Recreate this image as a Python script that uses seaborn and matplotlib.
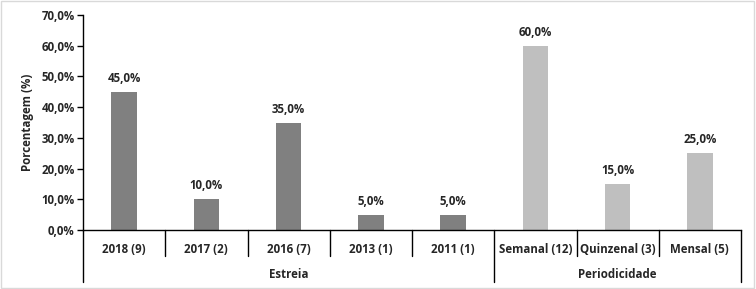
import numpy as np
import pandas as pd
import matplotlib
matplotlib.use('Agg')
import matplotlib.pyplot as plt
import matplotlib.transforms as mtransforms
from matplotlib.ticker import FuncFormatter
import seaborn as sns

# chart data
categories = ['2018 (9)', '2017 (2)', '2016 (7)', '2013 (1)', '2011 (1)',
              'Semanal (12)', 'Quinzenal (3)', 'Mensal (5)']
values = [0.45, 0.10, 0.35, 0.05, 0.05, 0.60, 0.15, 0.25]
groups = ['Estreia'] * 5 + ['Periodicidade'] * 3
group_names = ['Estreia', 'Periodicidade']
colors = {'Estreia': '#808080', 'Periodicidade': '#BFBFBF'}
y_ticks = [0.0, 0.1, 0.2, 0.3, 0.4, 0.5, 0.6, 0.7]

df = pd.DataFrame({'cat': categories, 'val': values, 'grp': groups})

sns.set_style('white')
plt.rcParams['font.family'] = ['Open Sans', 'DejaVu Sans']
plt.rcParams['font.weight'] = 'bold'
fs = 8.3

fig = plt.figure(figsize=(7.56, 2.89), dpi=100)
ax = fig.add_axes([83 / 756, 59 / 289, 658 / 756, 215 / 289])

sns.barplot(data=df, x='cat', y='val', hue='grp', palette=colors, dodge=False,
            width=0.31, legend=False, ax=ax, saturation=1, linewidth=0)

ax.set_xlim(-0.5, len(categories) - 0.5)
ax.set_ylim(0, 0.7)
ax.set_yticks(y_ticks)
ax.yaxis.set_major_formatter(FuncFormatter(lambda v, p: '{:.1f}%'.format(v * 100).replace('.', ',')))
ax.tick_params(axis='y', which='major', left=True, length=4, width=1, color='black',
               labelsize=fs, pad=2)
ax.tick_params(axis='x', bottom=False, labelsize=fs, pad=6)
ax.set_xlabel('')
ax.set_ylabel('Porcentagem (%)', fontsize=fs, fontweight='bold', labelpad=5)
for lab in ax.get_xticklabels() + ax.get_yticklabels():
    lab.set_fontweight('bold')

sns.despine(ax=ax, top=True, right=True)
for s in ['left', 'bottom']:
    ax.spines[s].set_color('black')
    ax.spines[s].set_linewidth(1)

# value labels
for i, v in enumerate(values):
    ax.annotate('{:.1f}%'.format(v * 100).replace('.', ','), (i, v), xytext=(0, 5),
                textcoords='offset points', ha='center', va='bottom',
                fontsize=fs, fontweight='bold')

# category / group separators below the axis
trans = mtransforms.blended_transform_factory(ax.transData, ax.transAxes)
short = -26 / 215
long_ = -52 / 215
bounds = [-0.5]
n = 0
for g in group_names:
    n += groups.count(g)
    bounds.append(n - 0.5)
for i in range(len(categories) + 1):
    x = i - 0.5
    y0 = long_ if x in bounds else short
    ax.plot([x, x], [0, y0], transform=trans, color='black', lw=1, clip_on=False)

start = 0
for g in group_names:
    cnt = groups.count(g)
    mid = start + (cnt - 1) / 2
    ax.text(mid, -44 / 215, g, transform=trans, ha='center', va='center',
            fontsize=fs, fontweight='bold')
    start += cnt

# light frame around figure
fig.patches.append(plt.Rectangle((0.001, 0.002), 0.997, 0.995, transform=fig.transFigure,
                                 fill=False, edgecolor='#D9D9D9', lw=1))

fig.savefig('out.png', dpi=100)
